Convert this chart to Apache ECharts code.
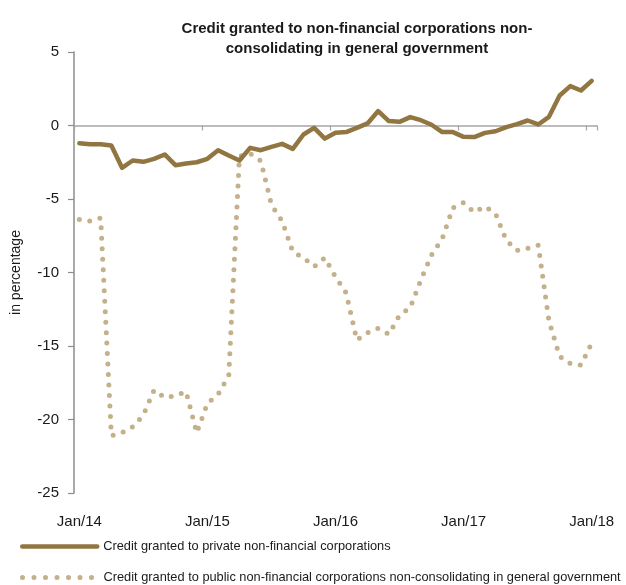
<!DOCTYPE html>
<html>
<head>
<meta charset="utf-8">
<script src="https://cdn.jsdelivr.net/npm/echarts@6/dist/echarts.min.js"></script>
<style>
html,body{margin:0;padding:0;background:#fff;}
#chart{width:626px;height:585px;}
</style>
</head>
<body>
<div id="chart"></div>
<script>
var FONT = "'Liberation Sans', Arial, sans-serif";

var titleText = 'Credit granted to non-financial corporations non-\nconsolidating in general government';
var yAxisName = 'in percentage';
var seriesNames = [
  'Credit granted to private non-financial corporations',
  'Credit granted to public non-financial corporations non-consolidating in general government'
];

var monthNames = ['Jan','Feb','Mar','Apr','May','Jun','Jul','Aug','Sep','Oct','Nov','Dec'];
var years = ['14','15','16','17','18'];
var categories = [];
years.forEach(function (y, yi) {
  monthNames.forEach(function (m, mi) {
    if (yi < 4 || mi === 0) categories.push(m + '/' + y);
  });
});

var privateCredit = [
  -1.2, -1.27, -1.27, -1.36, -2.88, -2.38, -2.47, -2.27, -1.97, -2.7, -2.58, -2.5,
  -2.27, -1.68, -2.04, -2.38, -1.52, -1.68, -1.45, -1.25, -1.59, -0.61, -0.16, -0.89,
  -0.5, -0.45, -0.16, 0.14, 0.98, 0.3, 0.25, 0.57, 0.36, 0.05, -0.45, -0.45,
  -0.77, -0.79, -0.5, -0.39, -0.11, 0.09, 0.34, 0.07, 0.59, 2.04, 2.68, 2.38,
  3.04
];

var publicCredit = [
  -6.4, -6.5, -6.3, -21.1, -20.9, -20.5, -19.7, -18.0, -18.5, -18.4, -18.1, -20.9,
  -18.9, -18.3, -17.0, -2.1, -1.9, -2.4, -5.4, -6.5, -8.6, -9.0, -9.6, -9.0,
  -10.3, -11.4, -14.6, -14.1, -13.8, -14.2, -12.9, -12.4, -10.5, -8.8, -7.7, -5.6,
  -5.25, -5.9, -5.5, -6.0, -7.8, -8.5, -8.35, -8.15, -13.3, -15.7, -16.2, -16.3,
  -14.8
];

var yMin = -25, yMax = 5, yStep = 5;

var SOLID = '#927641';
var DOTTED = '#c4b08b';

function legendFor(name, top, lineStyle) {
  return {
    orient: 'horizontal',
    left: 20,
    top: top,
    itemWidth: 75,
    itemHeight: 8,
    itemGap: 0,
    padding: 0,
    textStyle: { fontFamily: FONT, fontSize: 12.8, color: '#1a1a1a', padding: [0, 0, 0, 1] },
    itemStyle: { color: 'rgba(0,0,0,0)', borderWidth: 0, opacity: 0 },
    lineStyle: lineStyle,
    data: [name]
  };
}

var chart = echarts.init(document.getElementById('chart'), null, {renderer: 'canvas'});
chart.setOption({
  animation: false,
  backgroundColor: '#ffffff',
  title: {
    text: titleText,
    left: 352,
    top: 14,
    textAlign: 'center',
    textStyle: {
      fontFamily: FONT, fontSize: 15, fontWeight: 'bold', color: '#1a1a1a', lineHeight: 20
    }
  },
  legend: [
    legendFor(seriesNames[0], 540, { color: SOLID, width: 4.5, cap: 'round' }),
    legendFor(seriesNames[1], 571, { color: DOTTED, width: 5, type: [0, 11.5], cap: 'round' })
  ],
  grid: { left: 74, right: 29, top: 52, bottom: 92, containLabel: false },
  xAxis: [
    {
      type: 'category',
      data: categories,
      boundaryGap: true,
      position: 'bottom',
      axisLine: { show: false, onZero: false },
      axisTick: { show: false },
      axisLabel: {
        interval: 11,
        margin: 21,
        fontFamily: FONT, fontSize: 15, color: '#1a1a1a'
      },
      splitLine: { show: false }
    },
    {
      type: 'category',
      data: categories,
      boundaryGap: true,
      position: 'bottom',
      axisLine: { show: true, onZero: true, lineStyle: { color: '#a6a6a6', width: 1.5 } },
      axisTick: { show: true, interval: 11, length: 5, lineStyle: { color: '#a6a6a6', width: 1.2 } },
      axisLabel: { show: false },
      splitLine: { show: false }
    }
  ],
  yAxis: {
    type: 'value',
    min: yMin, max: yMax, interval: yStep,
    name: yAxisName,
    nameLocation: 'middle',
    nameGap: 51,
    nameTextStyle: { fontFamily: FONT, fontSize: 14, color: '#1a1a1a' },
    axisLine: { show: true, lineStyle: { color: '#8c8c8c', width: 1.5 } },
    axisTick: { show: true, length: 6, lineStyle: { color: '#8c8c8c', width: 1.2 } },
    axisLabel: { margin: 15, fontFamily: FONT, fontSize: 15, color: '#1a1a1a' },
    splitLine: { show: false }
  },
  series: [
    {
      name: seriesNames[0],
      type: 'line',
      xAxisIndex: 0,
      data: privateCredit,
      symbol: 'none',
      smooth: false,
      z: 3,
      lineStyle: { color: SOLID, width: 4.5, cap: 'round', join: 'round' },
      itemStyle: { color: SOLID }
    },
    {
      name: seriesNames[1],
      type: 'line',
      xAxisIndex: 0,
      data: publicCredit,
      symbol: 'none',
      smooth: false,
      z: 2,
      lineStyle: { color: DOTTED, width: 5, type: [0, 10.5], cap: 'round', join: 'round' },
      itemStyle: { color: DOTTED }
    }
  ]
});
</script>
</body>
</html>
